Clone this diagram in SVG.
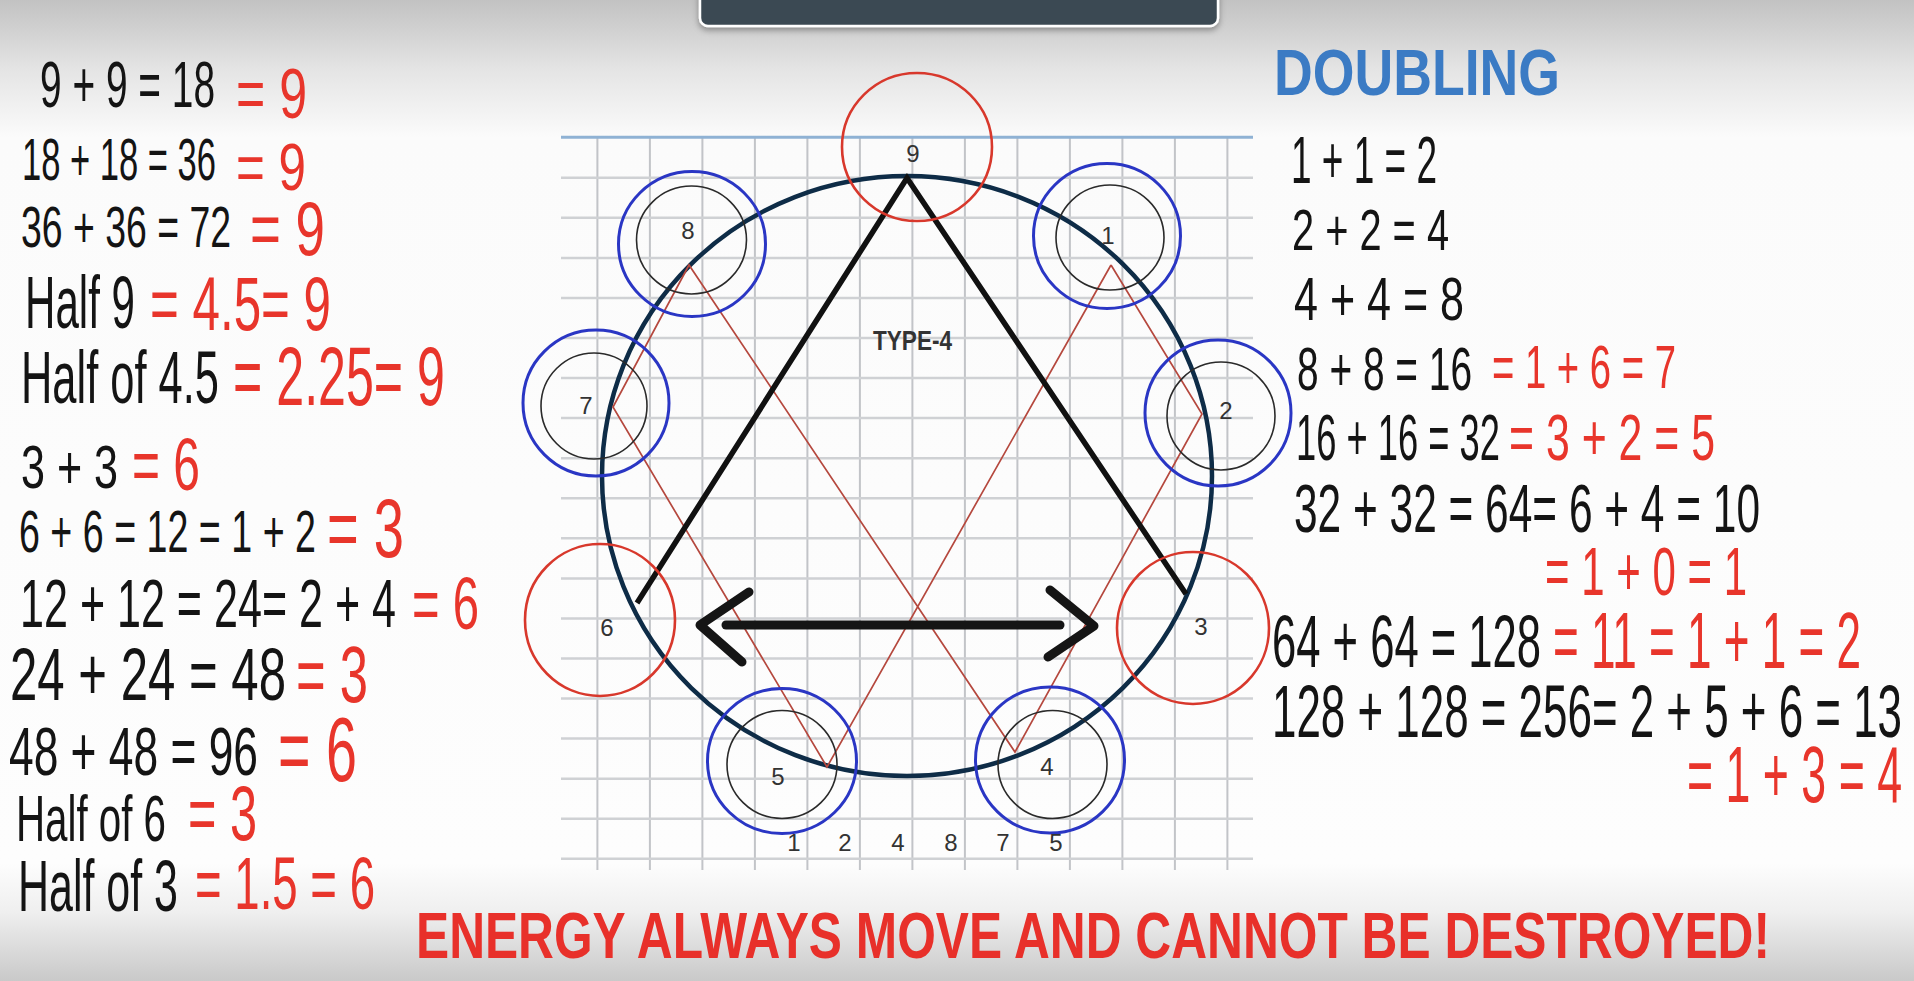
<svg xmlns="http://www.w3.org/2000/svg" width="1914" height="981" viewBox="0 0 1914 981">
<defs>
<linearGradient id="bg" x1="0" y1="0" x2="0" y2="1">
<stop offset="0" stop-color="#c2c2c2"/>
<stop offset="0.07" stop-color="#e4e4e4"/>
<stop offset="0.14" stop-color="#fbfbfb"/>
<stop offset="0.88" stop-color="#fdfdfd"/>
<stop offset="0.93" stop-color="#efefef"/>
<stop offset="1" stop-color="#c9c9c9"/>
</linearGradient>
<filter id="sh" x="-5%" y="-50%" width="110%" height="200%"><feDropShadow dx="0" dy="3" stdDeviation="3" flood-color="#000" flood-opacity="0.35"/></filter>
</defs>
<style>
.t{font-family:"Liberation Sans",Arial,sans-serif;}
.k{fill:#141414;}
.r{fill:#e8352b;}
.gv{stroke:#c2c4c8;stroke-width:2;}
.gh{stroke:#cfd1d4;stroke-width:2.5;}
.blue{fill:none;stroke:#2a36c4;stroke-width:3;}
.inner{fill:none;stroke:#2a2a2a;stroke-width:1.6;}
.red{fill:none;stroke:#d8382c;stroke-width:2.6;}
.lbl{font-family:"Liberation Sans",Arial,sans-serif;font-size:24px;fill:#333;text-anchor:middle;}
.rl{fill:none;stroke:#b5483e;stroke-width:1.7;}
</style>
<rect width="1914" height="981" fill="url(#bg)"/>
<rect x="700" y="-12" width="518" height="38" rx="8" fill="#3b4852" stroke="#ffffff" stroke-width="2.5" filter="url(#sh)"/>

<g id="grid">
<g class="gv">
<line x1="597.4" y1="137" x2="597.4" y2="870"/>
<line x1="649.9" y1="137" x2="649.9" y2="870"/>
<line x1="702.4" y1="137" x2="702.4" y2="870"/>
<line x1="754.9" y1="137" x2="754.9" y2="870"/>
<line x1="807.4" y1="137" x2="807.4" y2="870"/>
<line x1="859.9" y1="137" x2="859.9" y2="870"/>
<line x1="912.4" y1="137" x2="912.4" y2="870"/>
<line x1="964.9" y1="137" x2="964.9" y2="870"/>
<line x1="1017.4" y1="137" x2="1017.4" y2="870"/>
<line x1="1069.9" y1="137" x2="1069.9" y2="870"/>
<line x1="1122.4" y1="137" x2="1122.4" y2="870"/>
<line x1="1174.9" y1="137" x2="1174.9" y2="870"/>
<line x1="1227.4" y1="137" x2="1227.4" y2="870"/>
</g>
<g class="gh">
<line x1="561" y1="177.8" x2="1253" y2="177.8"/>
<line x1="561" y1="217.8" x2="1253" y2="217.8"/>
<line x1="561" y1="257.9" x2="1253" y2="257.9"/>
<line x1="561" y1="297.9" x2="1253" y2="297.9"/>
<line x1="561" y1="338" x2="1253" y2="338"/>
<line x1="561" y1="378.1" x2="1253" y2="378.1"/>
<line x1="561" y1="418.1" x2="1253" y2="418.1"/>
<line x1="561" y1="458.2" x2="1253" y2="458.2"/>
<line x1="561" y1="498.2" x2="1253" y2="498.2"/>
<line x1="561" y1="538.3" x2="1253" y2="538.3"/>
<line x1="561" y1="578.4" x2="1253" y2="578.4"/>
<line x1="561" y1="618.4" x2="1253" y2="618.4"/>
<line x1="561" y1="658.5" x2="1253" y2="658.5"/>
<line x1="561" y1="698.5" x2="1253" y2="698.5"/>
<line x1="561" y1="738.6" x2="1253" y2="738.6"/>
<line x1="561" y1="778.7" x2="1253" y2="778.7"/>
<line x1="561" y1="818.7" x2="1253" y2="818.7"/>
<line x1="561" y1="858.8" x2="1253" y2="858.8"/>
</g>
<line x1="561" y1="137.2" x2="1253" y2="137.2" stroke="#8fb2d4" stroke-width="3"/>
</g>

<g id="main-ring">
<ellipse cx="907" cy="476" rx="305" ry="300" fill="none" stroke="#0e2c47" stroke-width="4.5"/>
</g>

<g id="connectors">
<polyline class="rl" points="1111,265 1202,414 1015,752 689,265 613,407 827,767 1111,265"/>
<polyline points="637,603 907,178 1186,594" fill="none" stroke="#111" stroke-width="5.5" stroke-linejoin="miter"/>
<g stroke="#151515" stroke-width="9" stroke-linecap="round" stroke-linejoin="round" fill="none">
<line x1="726" y1="625" x2="1060" y2="625"/>
<polyline points="749,592 700,625 742,662"/>
<polyline points="1050,590 1094,626 1048,657"/>
</g>
</g>

<g id="node-9"><ellipse class="red" cx="917" cy="147" rx="75" ry="74"/><text class="lbl" x="913" y="162">9</text></g>
<g id="node-8"><ellipse class="blue" cx="692" cy="244" rx="73.5" ry="72.5"/><ellipse class="inner" cx="691.5" cy="240" rx="55" ry="54"/><text class="lbl" x="688" y="239">8</text></g>
<g id="node-1"><ellipse class="blue" cx="1107" cy="236" rx="73.5" ry="72.5"/><ellipse class="inner" cx="1110" cy="237.5" rx="54" ry="52.5"/><text class="lbl" x="1108" y="244">1</text></g>
<g id="node-7"><ellipse class="blue" cx="596" cy="403" rx="73" ry="73"/><ellipse class="inner" cx="594" cy="406" rx="53" ry="53"/><text class="lbl" x="586" y="414">7</text></g>
<g id="node-2"><ellipse class="blue" cx="1218" cy="413" rx="73" ry="73"/><ellipse class="inner" cx="1221" cy="416" rx="54" ry="54"/><text class="lbl" x="1226" y="419">2</text></g>
<g id="node-6"><ellipse class="red" cx="600" cy="620" rx="75" ry="76"/><text class="lbl" x="607" y="636">6</text></g>
<g id="node-3"><ellipse class="red" cx="1193" cy="628" rx="76" ry="76"/><text class="lbl" x="1201" y="635">3</text></g>
<g id="node-5"><ellipse class="blue" cx="782" cy="761" rx="74.5" ry="72.5"/><ellipse class="inner" cx="782" cy="764.5" rx="55" ry="54"/><text class="lbl" x="778" y="785">5</text></g>
<g id="node-4"><ellipse class="blue" cx="1050" cy="760" rx="74.5" ry="73"/><ellipse class="inner" cx="1052.5" cy="764.5" rx="54.5" ry="54"/><text class="lbl" x="1047" y="775">4</text></g>

<g id="labels">
<text class="t" transform="translate(873,350) scale(0.806,1)" font-size="28" font-weight="bold" fill="#333" textLength="98" lengthAdjust="spacingAndGlyphs">TYPE-4</text>
<g class="lbl" font-size="23">
<text x="794" y="851">1</text><text x="845" y="851">2</text><text x="898" y="851">4</text><text x="951" y="851">8</text><text x="1003" y="851">7</text><text x="1056" y="851">5</text>
</g>
</g>

<g id="left-equations" class="t">
<text class="k" transform="translate(40,107) scale(0.607,1)" font-size="64" textLength="288.3" lengthAdjust="spacingAndGlyphs">9 + 9 = 18</text>
<text class="r" transform="translate(236,118) scale(0.705,1)" font-size="71" textLength="100.7" lengthAdjust="spacingAndGlyphs">= 9</text>
<text class="k" transform="translate(22,180) scale(0.576,1)" font-size="60" textLength="336.8" lengthAdjust="spacingAndGlyphs">18 + 18 = 36</text>
<text class="r" transform="translate(236,190) scale(0.737,1)" font-size="67" textLength="95" lengthAdjust="spacingAndGlyphs">= 9</text>
<text class="k" transform="translate(21,247) scale(0.645,1)" font-size="58" textLength="325.6" lengthAdjust="spacingAndGlyphs">36 + 36 = 72</text>
<text class="r" transform="translate(250,255) scale(0.696,1)" font-size="76" textLength="107.8" lengthAdjust="spacingAndGlyphs">= 9</text>
<text class="k" transform="translate(25,328) scale(0.569,1)" font-size="74" textLength="193.3" lengthAdjust="spacingAndGlyphs">Half 9</text>
<text class="r" transform="translate(150,330) scale(0.649,1)" font-size="76" textLength="278.9" lengthAdjust="spacingAndGlyphs">= 4.5= 9</text>
<text class="k" transform="translate(21,403) scale(0.587,1)" font-size="74" textLength="337.3" lengthAdjust="spacingAndGlyphs">Half of 4.5</text>
<text class="r" transform="translate(233,405) scale(0.604,1)" font-size="83" textLength="351" lengthAdjust="spacingAndGlyphs">= 2.25= 9</text>
<text class="k" transform="translate(21,488) scale(0.695,1)" font-size="62" textLength="139.6" lengthAdjust="spacingAndGlyphs">3 + 3</text>
<text class="r" transform="translate(132,490) scale(0.639,1)" font-size="75" textLength="106.4" lengthAdjust="spacingAndGlyphs">= 6</text>
<text class="k" transform="translate(19,552) scale(0.627,1)" font-size="60" textLength="473.7" lengthAdjust="spacingAndGlyphs">6 + 6 = 12 = 1 + 2</text>
<text class="r" transform="translate(327,557) scale(0.654,1)" font-size="83" textLength="117.7" lengthAdjust="spacingAndGlyphs">= 3</text>
<text class="k" transform="translate(20,627) scale(0.624,1)" font-size="69" textLength="602.6" lengthAdjust="spacingAndGlyphs">12 + 12 = 24= 2 + 4</text>
<text class="r" transform="translate(412,629) scale(0.63,1)" font-size="75" textLength="106.3" lengthAdjust="spacingAndGlyphs">= 6</text>
<text class="k" transform="translate(10,700) scale(0.664,1)" font-size="74" textLength="415.7" lengthAdjust="spacingAndGlyphs">24 + 24 = 48</text>
<text class="r" transform="translate(296,702) scale(0.643,1)" font-size="79" textLength="112" lengthAdjust="spacingAndGlyphs">= 3</text>
<text class="k" transform="translate(9,775) scale(0.643,1)" font-size="69" textLength="387.2" lengthAdjust="spacingAndGlyphs">48 + 48 = 96</text>
<text class="r" transform="translate(278,781) scale(0.619,1)" font-size="90" textLength="127.6" lengthAdjust="spacingAndGlyphs">= 6</text>
<text class="k" transform="translate(16,841) scale(0.629,1)" font-size="64" textLength="238.5" lengthAdjust="spacingAndGlyphs">Half of 6</text>
<text class="r" transform="translate(188,840) scale(0.624,1)" font-size="78" textLength="110.6" lengthAdjust="spacingAndGlyphs">= 3</text>
<text class="k" transform="translate(18,911) scale(0.597,1)" font-size="72" textLength="268" lengthAdjust="spacingAndGlyphs">Half of 3</text>
<text class="r" transform="translate(195,909) scale(0.616,1)" font-size="74" textLength="292.2" lengthAdjust="spacingAndGlyphs">= 1.5 = 6</text>
</g>

<g id="right-equations" class="t">
<text transform="translate(1274,95) scale(0.825,1)" font-size="65" font-weight="bold" fill="#3b7bc4" textLength="346.7" lengthAdjust="spacingAndGlyphs">DOUBLING</text>
<text class="k" transform="translate(1291,183) scale(0.552,1)" font-size="67" textLength="264.5" lengthAdjust="spacingAndGlyphs">1 + 1 = 2</text>
<text class="k" transform="translate(1292,250) scale(0.686,1)" font-size="58" textLength="228.9" lengthAdjust="spacingAndGlyphs">2 + 2 = 4</text>
<text class="k" transform="translate(1294,320) scale(0.694,1)" font-size="62" textLength="245" lengthAdjust="spacingAndGlyphs">4 + 4 = 8</text>
<text class="k" transform="translate(1297,390) scale(0.627,1)" font-size="62" textLength="279.1" lengthAdjust="spacingAndGlyphs">8 + 8 = 16</text>
<text class="r" transform="translate(1492,388) scale(0.617,1)" font-size="62" textLength="298.2" lengthAdjust="spacingAndGlyphs">= 1 + 6 = 7</text>
<text class="k" transform="translate(1296,460) scale(0.559,1)" font-size="65" textLength="364.9" lengthAdjust="spacingAndGlyphs">16 + 16 = 32</text>
<text class="r" transform="translate(1509,460) scale(0.659,1)" font-size="65" textLength="312.6" lengthAdjust="spacingAndGlyphs">= 3 + 2 = 5</text>
<text class="k" transform="translate(1294,532) scale(0.624,1)" font-size="68" textLength="746.8" lengthAdjust="spacingAndGlyphs">32 + 32 = 64= 6 + 4 = 10</text>
<text class="r" transform="translate(1545,595) scale(0.609,1)" font-size="69" textLength="331.7" lengthAdjust="spacingAndGlyphs">= 1 + 0 = 1</text>
<text class="k" transform="translate(1272,667) scale(0.581,1)" font-size="75" textLength="463" lengthAdjust="spacingAndGlyphs">64 + 64 = 128</text>
<text class="r" transform="translate(1553,668) scale(0.545,1)" font-size="80" textLength="565.1" lengthAdjust="spacingAndGlyphs">= 11 = 1 + 1 = 2</text>
<text class="k" transform="translate(1272,737) scale(0.585,1)" font-size="75" textLength="1076.9" lengthAdjust="spacingAndGlyphs">128 + 128 = 256= 2 + 5 + 6 = 13</text>
<text class="r" transform="translate(1687,802) scale(0.566,1)" font-size="79" textLength="379.9" lengthAdjust="spacingAndGlyphs">= 1 + 3 = 4</text>
</g>

<g id="footer">
<text class="t" transform="translate(416,958) scale(0.756,1)" font-size="65" font-weight="bold" fill="#e8302a" textLength="1791" lengthAdjust="spacingAndGlyphs">ENERGY ALWAYS MOVE AND CANNOT BE DESTROYED!</text>
</g>
</svg>
